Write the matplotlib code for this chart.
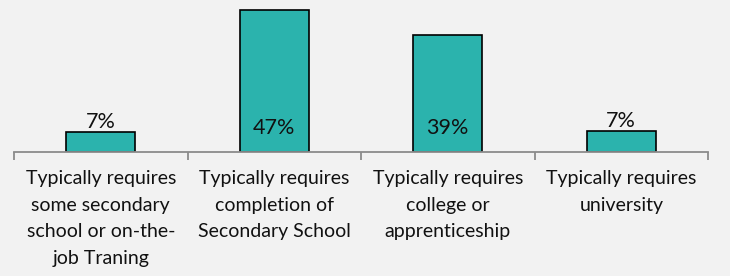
import matplotlib.pyplot as plt

categories = [
    "Typically requires\nsome secondary\nschool or on-the-\njob Traning",
    "Typically requires\ncompletion of\nSecondary School",
    "Typically requires\ncollege or\napprenticeship",
    "Typically requires\nuniversity",
]
shares = [6.6, 47.0, 38.6, 7.0]
labels = ["7%", "47%", "39%", "7%"]
inside = [False, True, True, False]

plt.rcParams["font.family"] = ["Lato", "DejaVu Sans"]

fig = plt.figure(figsize=(7.3, 2.76), dpi=100, facecolor="#f2f2f2")
ax = fig.add_axes([0.0192, 0.449, 0.9507, 0.551])
ax.set_facecolor("#f2f2f2")

x = list(range(len(categories)))
bars = ax.bar(x, shares, width=0.40, color="#2bb3ad", edgecolor="black", linewidth=1.2, zorder=2)

for b, lab, ins in zip(bars, labels, inside):
    cx = b.get_x() + b.get_width() / 2
    if ins:
        ax.annotate(lab, (cx, 0), xytext=(0, 10), textcoords="offset points",
                    ha="center", va="bottom", fontsize=15.5, color="#111111")
    else:
        ax.annotate(lab, (cx, b.get_height()), xytext=(0, 0), textcoords="offset points",
                    ha="center", va="bottom", fontsize=15.5, color="#111111")

ax.set_xlim(-0.5, 3.5)
ax.set_ylim(0, 50.3)
ax.set_yticks([])
for s in ["top", "right", "left"]:
    ax.spines[s].set_visible(False)
ax.spines["bottom"].set_color("#8c8c8c")
ax.spines["bottom"].set_linewidth(1.3)
ax.spines["bottom"].set_zorder(3)

ax.set_xticks(x)
ax.set_xticklabels(categories, fontsize=14, color="#111111", linespacing=1.68)
ax.tick_params(axis="x", which="major", length=0, pad=13)
ax.set_xticks([-0.5, 0.5, 1.5, 2.5, 3.5], minor=True)
ax.tick_params(axis="x", which="minor", length=6, width=1.3, color="#8c8c8c", direction="out")

fig.savefig("out.png", dpi=100, facecolor=fig.get_facecolor())
